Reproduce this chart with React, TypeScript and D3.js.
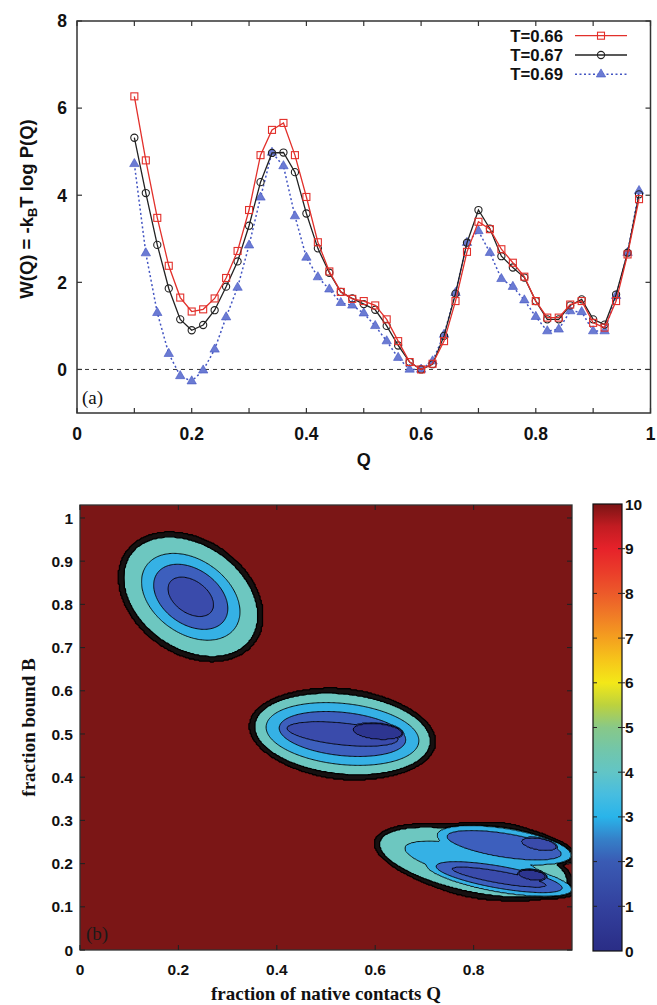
import React, { useMemo } from 'react';
import * as d3 from 'd3';

// ---------- Panel (a): W(Q) profiles ----------
const Q = [0.10, 0.12, 0.14, 0.16, 0.18, 0.20, 0.22, 0.24, 0.26, 0.28, 0.30, 0.32, 0.34, 0.36, 0.38,
  0.40, 0.42, 0.44, 0.46, 0.48, 0.50, 0.52, 0.54, 0.56, 0.58, 0.60, 0.62, 0.64, 0.66, 0.68,
  0.70, 0.72, 0.74, 0.76, 0.78, 0.80, 0.82, 0.84, 0.86, 0.88, 0.90, 0.92, 0.94, 0.96, 0.98];
const W_T066 = [6.27, 4.80, 3.48, 2.38, 1.65, 1.33, 1.38, 1.63, 2.10, 2.72, 3.66, 4.92, 5.50, 5.66, 4.92,
  3.96, 2.92, 2.25, 1.78, 1.62, 1.57, 1.47, 1.15, 0.65, 0.17, 0.00, 0.13, 0.65, 1.57, 2.70,
  3.39, 3.22, 2.76, 2.45, 2.13, 1.57, 1.19, 1.19, 1.49, 1.57, 1.07, 0.96, 1.57, 2.64, 3.91];
const W_T067 = [5.32, 4.05, 2.86, 1.86, 1.15, 0.90, 1.02, 1.36, 1.90, 2.48, 3.30, 4.30, 4.97, 4.98, 4.53,
  3.58, 2.78, 2.22, 1.78, 1.63, 1.50, 1.37, 1.00, 0.55, 0.17, 0.00, 0.12, 0.77, 1.74, 2.91,
  3.66, 3.23, 2.60, 2.34, 2.11, 1.57, 1.15, 1.15, 1.47, 1.61, 1.15, 1.03, 1.72, 2.68, 4.02];
const W_T069 = [4.72, 2.67, 1.30, 0.36, -0.15, -0.27, -0.02, 0.46, 1.20, 1.88, 2.85, 3.95, 4.98, 4.67, 3.52,
  2.57, 2.12, 1.84, 1.53, 1.47, 1.29, 1.00, 0.65, 0.27, 0.00, 0.00, 0.19, 0.80, 1.76, 2.91,
  3.18, 2.68, 2.08, 1.90, 1.59, 1.21, 0.88, 0.92, 1.34, 1.32, 0.88, 0.88, 1.69, 2.68, 4.10];
const seriesLabels = ['T=0.66', 'T=0.67', 'T=0.69'];

const topXTicks = [0, 0.2, 0.4, 0.6, 0.8, 1];
const topXTickLabels = ['0', '0.2', '0.4', '0.6', '0.8', '1'];
const topXMinorTicks = [0.1, 0.3, 0.5, 0.7, 0.9];
const topYTicks = [0, 2, 4, 6, 8];
const topYTickLabels = ['0', '2', '4', '6', '8'];

// ---------- Panel (b): free-energy surface F(Q,B) ----------
const botXTicks = [0, 0.2, 0.4, 0.6, 0.8];
const botXTickLabels = ['0', '0.2', '0.4', '0.6', '0.8'];
const botYTicks = [0, 0.1, 0.2, 0.3, 0.4, 0.5, 0.6, 0.7, 0.8, 0.9, 1];
const botYTickLabels = ['0', '0.1', '0.2', '0.3', '0.4', '0.5', '0.6', '0.7', '0.8', '0.9', '1'];
const cbTicks = [0, 1, 2, 3, 4, 5, 6, 7, 8, 9, 10];

// basin wells: centre (Q,B), tilt, minimum F, and contour ellipses [level, semi-major, semi-minor] (Q units)
const wellQ = [0.2251, 0.5335, 0.6045, 0.7992, 0.8621, 0.9331, 0.8519, 0.9189];
const wellB = [0.8175, 0.5000, 0.5058, 0.2032, 0.2425, 0.2448, 0.1686, 0.1732];
const wellAngle = [-35, -6, -5, -12, -9, -10, -10, -8];
const wellMin = [1.2, 1.3, 0.0, 3.5, 2.2, 1.2, 1.5, 0.6];
const wellLevels = [
  [[2, 0.0518, 0.0330], [3, 0.0833, 0.0560], [4, 0.1100, 0.0750], [5, 0.1500, 0.1060]],
  [[2, 0.1138, 0.0223], [3, 0.1290, 0.0440], [4, 0.1560, 0.0620], [5, 0.1800, 0.0820]],
  [[1, 0.0508, 0.0163]],
  [[4, 0.1423, 0.0325], [5, 0.1951, 0.0610]],
  [[3, 0.1179, 0.0244], [4, 0.1382, 0.0346]],
  [[2, 0.0366, 0.0122]],
  [[2, 0.0976, 0.0122], [3, 0.1301, 0.0224], [4, 0.1504, 0.0305]],
  [[1, 0.0285, 0.0102]],
];
const unsampledValue = 10;
const rimWidth = 0.009;

const bandThresholds = [0, 1, 2, 3, 4, 5, 10];
const bandColors = ['#2d3590', '#3a4bab', '#3d5fbd', '#35b1e5', '#6dc7c0', '#161010', '#7b1616'];

const cbStopValues = [0, 1, 2, 2.5, 3, 3.5, 4, 4.5, 5, 5.5, 6, 6.5, 7, 7.5, 8, 8.5, 9, 9.5, 10];
const cbStopColors = ['#2a2d86', '#33419e', '#3a5bb4', '#3580c8', '#29b4ea', '#47bde0', '#62c5c6', '#72c6aa',
  '#88c888', '#bcd23e', '#f3e818', '#f6c61a', '#f4a01f', '#f07c26', '#ec5a2a', '#ea3c2a', '#e6222a', '#c21c22', '#7a1414'];

const SANS = '"Liberation Sans", Arial, Helvetica, sans-serif';
const SERIF = '"Liberation Serif", "Times New Roman", serif';

function wellValue(i: number, q: number, b: number, kY: number): number {
  const dx = q - wellQ[i];
  const dy = (b - wellB[i]) * kY;
  const th = (wellAngle[i] * Math.PI) / 180;
  const u = dx * Math.cos(th) + dy * Math.sin(th);
  const v = -dx * Math.sin(th) + dy * Math.cos(th);
  const rho = Math.sqrt(u * u + v * v);
  const c = rho > 0 ? u / rho : 1;
  const s = rho > 0 ? v / rho : 0;
  let prevR = 0;
  let prevL = wellMin[i];
  const lv = wellLevels[i];
  for (let k = 0; k < lv.length; k++) {
    const [L, a, bb] = lv[k];
    const r = (a * bb) / Math.sqrt((bb * c) * (bb * c) + (a * s) * (a * s));
    if (rho <= r) return prevL + ((L - prevL) * (rho - prevR)) / (r - prevR);
    prevR = r;
    prevL = L;
  }
  const rEnd = prevR + rimWidth;
  if (rho <= rEnd) return prevL + ((unsampledValue - prevL) * (rho - prevR)) / rimWidth;
  return unsampledValue;
}

export default function App() {
  const W = 657, H = 1005;

  // ---- top panel scales
  const xT = d3.scaleLinear().domain([0, 1]).range([77, 650.5]);
  const yT = d3.scaleLinear().domain([-1, 8]).range([413, 21]);

  // ---- bottom panel scales
  const xB = d3.scaleLinear().domain([0, 1]).range([80, 572]);
  const yB = d3.scaleLinear().domain([0, 1.03]).range([950, 505]);
  const cbY = d3.scaleLinear().domain([0, 10]).range([951, 504]);

  const contourPaths = useMemo(() => {
    const nx = 400, ny = 420;
    const q1 = 1, b1 = 1.03;
    const dq = q1 / (nx - 1), db = b1 / (ny - 1);
    const kY = (yB(0) - yB(1)) / (xB(1) - xB(0));
    const values = new Float64Array(nx * ny);
    for (let j = 0; j < ny; j++) {
      const b = j * db;
      for (let i = 0; i < nx; i++) {
        const q = i * dq;
        let f = unsampledValue;
        for (let w = 0; w < wellQ.length; w++) {
          const val = wellValue(w, q, b, kY);
          if (val < f) f = val;
        }
        values[j * nx + i] = f;
      }
    }
    const contours = d3.contours().size([nx, ny]).thresholds(bandThresholds)(Array.from(values));
    const proj = d3.geoTransform({
      point: function (this: any, x: number, y: number) {
        this.stream.point(xB((x - 0.5) * dq), yB((y - 0.5) * db));
      },
    });
    const path = d3.geoPath(proj);
    return contours.map((c) => ({ value: c.value, d: path(c as any) || '' }));
  }, []);

  const series = [
    { label: seriesLabels[0], values: W_T066, color: '#e2302b', marker: 'square', dash: undefined },
    { label: seriesLabels[1], values: W_T067, color: '#222222', marker: 'circle', dash: undefined },
    { label: seriesLabels[2], values: W_T069, color: '#4254c2', marker: 'triangle', dash: '2,2.5' },
  ];
  const drawOrder = [2, 1, 0];
  const line = d3.line<number>().x((_, i) => xT(Q[i])).y((v) => yT(v));
  const triPath = d3.symbol().type(d3.symbolTriangle).size(38)() || '';

  const marker = (kind: string, cx: number, cy: number, color: string, key: any) => {
    if (kind === 'square')
      return <rect key={key} x={cx - 3.5} y={cy - 3.5} width={7} height={7} fill="white" fillOpacity={0} stroke={color} strokeWidth={1.1} />;
    if (kind === 'circle')
      return <circle key={key} cx={cx} cy={cy} r={3.6} fill="none" stroke={color} strokeWidth={1.1} />;
    return <path key={key} d={triPath} transform={`translate(${cx},${cy})`} fill="#6b7bd3" stroke="#4254c2" strokeWidth={0.6} />;
  };

  const legendX0 = 575, legendX1 = 627, legendTextX = 563;
  const legendY = [35.7, 55, 74.3];

  const plotT = { l: xT(0), r: xT(1), t: yT(8), b: yT(-1) };
  const plotB = { l: xB(0), r: xB(1), t: yB(1.03), b: yB(0) };

  return (
    <svg width={W} height={H} style={{ position: 'absolute', left: 0, top: 0, background: 'white' }}>
      <defs>
        <clipPath id="clipB">
          <rect x={plotB.l} y={plotB.t} width={plotB.r - plotB.l} height={plotB.b - plotB.t} />
        </clipPath>
        <clipPath id="clipT">
          <rect x={plotT.l} y={plotT.t} width={plotT.r - plotT.l} height={plotT.b - plotT.t} />
        </clipPath>
        <linearGradient id="cbGrad" x1="0" y1="1" x2="0" y2="0">
          {cbStopValues.map((v, i) => (
            <stop key={i} offset={v / 10} stopColor={cbStopColors[i]} />
          ))}
        </linearGradient>
      </defs>

      {/* ================= Panel (a) ================= */}
      <line x1={plotT.l} x2={plotT.r} y1={yT(0)} y2={yT(0)} stroke="#333" strokeWidth={1} strokeDasharray="4,4" />
      <g clipPath="url(#clipT)">
        {drawOrder.map((si) => {
          const s = series[si];
          return (
            <g key={si}>
              <path d={line(s.values) || ''} fill="none" stroke={s.color} strokeWidth={si === 2 ? 1.5 : 1.3} strokeDasharray={s.dash} />
              {s.values.map((v, i) => marker(s.marker, xT(Q[i]), yT(v), s.color, i))}
            </g>
          );
        })}
      </g>
      {/* frame + ticks */}
      <rect x={plotT.l} y={plotT.t} width={plotT.r - plotT.l} height={plotT.b - plotT.t} fill="none" stroke="#333" strokeWidth={1.5} />
      {[...topXTicks, ...topXMinorTicks].map((t, i) => (
        <g key={'tx' + i}>
          <line x1={xT(t)} x2={xT(t)} y1={plotT.b} y2={plotT.b - 5} stroke="#333" strokeWidth={1.2} />
          <line x1={xT(t)} x2={xT(t)} y1={plotT.t} y2={plotT.t + 5} stroke="#333" strokeWidth={1.2} />
        </g>
      ))}
      {topYTicks.map((t, i) => (
        <g key={'ty' + i}>
          <line x1={plotT.l} x2={plotT.l + 5} y1={yT(t)} y2={yT(t)} stroke="#333" strokeWidth={1.2} />
          <line x1={plotT.r} x2={plotT.r - 5} y1={yT(t)} y2={yT(t)} stroke="#333" strokeWidth={1.2} />
        </g>
      ))}
      {topXTicks.map((t, i) => (
        <text key={'txl' + i} x={xT(t)} y={440} textAnchor="middle" fontFamily={SANS} fontWeight="bold" fontSize={17.5} fill="#111">
          {topXTickLabels[i]}
        </text>
      ))}
      {topYTicks.map((t, i) => (
        <text key={'tyl' + i} x={67} y={yT(t)} dy="0.36em" textAnchor="end" fontFamily={SANS} fontWeight="bold" fontSize={17.5} fill="#111">
          {topYTickLabels[i]}
        </text>
      ))}
      <text x={(plotT.l + plotT.r) / 2} y={466} textAnchor="middle" fontFamily={SANS} fontWeight="bold" fontSize={18} fill="#111">Q</text>
      <text transform={`translate(33,${(plotT.t + plotT.b) / 2 - 8}) rotate(-90)`} textAnchor="middle" fontFamily={SANS} fontWeight="bold" fontSize={18.5} fill="#111">
        W(Q) = -k<tspan fontSize={13} dy={4}>B</tspan><tspan dy={-4}>T log P(Q)</tspan>
      </text>
      <text x={82} y={404} fontFamily={SERIF} fontSize={19} fill="#111">(a)</text>
      {/* legend */}
      {series.map((s, i) => (
        <g key={'lg' + i}>
          <text x={legendTextX} y={legendY[i]} dy="0.36em" textAnchor="end" fontFamily={SANS} fontWeight="bold" fontSize={16.8} fill="#111">
            {s.label}
          </text>
          <line x1={legendX0} x2={legendX1} y1={legendY[i]} y2={legendY[i]} stroke={s.color} strokeWidth={i === 2 ? 1.4 : 1.3} strokeDasharray={s.dash} />
          {marker(s.marker, (legendX0 + legendX1) / 2, legendY[i], s.color, 'm')}
        </g>
      ))}

      {/* ================= Panel (b) ================= */}
      <g clipPath="url(#clipB)">
        {contourPaths.map((c, i) => (
          <path key={'f' + i} d={c.d} fill={bandColors[i]} stroke="none" />
        ))}
        {contourPaths.map((c, i) =>
          c.value > 0 ? (
            <path key={'l' + i} d={c.d} fill="none" stroke="#000" strokeWidth={c.value >= 5 ? 1.3 : 0.9} />
          ) : null
        )}
      </g>
      <rect x={plotB.l} y={plotB.t} width={plotB.r - plotB.l} height={plotB.b - plotB.t} fill="none" stroke="#333" strokeWidth={1.3} />
      {botXTicks.map((t, i) => (
        <g key={'bx' + i}>
          <line x1={xB(t)} x2={xB(t)} y1={plotB.b} y2={plotB.b - 5} stroke="#222" strokeWidth={1.1} />
          <line x1={xB(t)} x2={xB(t)} y1={plotB.t} y2={plotB.t + 5} stroke="#222" strokeWidth={1.1} />
          <text x={xB(t)} y={975} textAnchor="middle" fontFamily={SANS} fontWeight="bold" fontSize={15.5} fill="#111">
            {botXTickLabels[i]}
          </text>
        </g>
      ))}
      {botYTicks.map((t, i) => (
        <g key={'by' + i}>
          <line x1={plotB.l} x2={plotB.l + 5} y1={yB(t)} y2={yB(t)} stroke="#222" strokeWidth={1.1} />
          <line x1={plotB.r} x2={plotB.r - 5} y1={yB(t)} y2={yB(t)} stroke="#222" strokeWidth={1.1} />
          <text x={73} y={yB(t)} dy="0.36em" textAnchor="end" fontFamily={SANS} fontWeight="bold" fontSize={15.5} fill="#111">
            {botYTickLabels[i]}
          </text>
        </g>
      ))}
      <text x={86} y={940} fontFamily={SERIF} fontSize={19} fill="#1a1a1a">(b)</text>
      <text x={(plotB.l + plotB.r) / 2} y={1000} textAnchor="middle" fontFamily={SERIF} fontWeight="bold" fontSize={19} fill="#111">
        fraction of native contacts Q
      </text>
      <text transform={`translate(35,${(plotB.t + plotB.b) / 2}) rotate(-90)`} textAnchor="middle" fontFamily={SERIF} fontWeight="bold" fontSize={19} fill="#111">
        fraction bound B
      </text>

      {/* colour bar */}
      <rect x={593} y={cbY(10)} width={29} height={cbY(0) - cbY(10)} fill="url(#cbGrad)" stroke="#111" strokeWidth={1.2} />
      {cbTicks.map((t, i) => (
        <g key={'cb' + i}>
          {t > 0 && t < 10 ? (
            <>
              <line x1={593} x2={597} y1={cbY(t)} y2={cbY(t)} stroke="#222" strokeWidth={1} />
              <line x1={618} x2={625} y1={cbY(t)} y2={cbY(t)} stroke="#222" strokeWidth={1} />
            </>
          ) : null}
          <text x={625} y={cbY(t)} dy="0.36em" fontFamily={SANS} fontWeight="bold" fontSize={15.5} fill="#111">
            {String(t)}
          </text>
        </g>
      ))}
    </svg>
  );
}
